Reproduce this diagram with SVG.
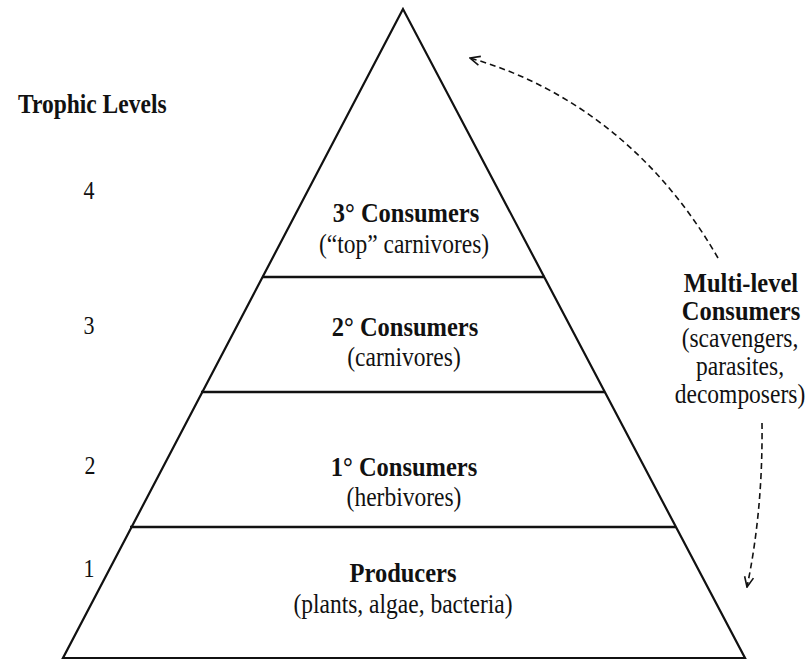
<svg xmlns="http://www.w3.org/2000/svg" width="809" height="660" viewBox="0 0 809 660">
  <style>
    text { font-family: "Liberation Serif", "Times New Roman", serif; fill: #111; }
    .b { font-weight: bold; font-size: 24.5px; text-anchor: middle; }
    .r { font-size: 23.5px; text-anchor: middle; }
    .n { font-size: 22px; text-anchor: middle; }
    .edge { fill: none; stroke: #111; stroke-width: 2.2; stroke-linejoin: miter; }
    .div { stroke: #111; stroke-width: 2.4; }
    .dash { fill: none; stroke: #111; stroke-width: 1.6; stroke-dasharray: 6 4; }
  </style>
  <defs>
    <marker id="ah" viewBox="0 0 12 12" refX="11" refY="6" markerWidth="12" markerHeight="12" markerUnits="userSpaceOnUse" orient="auto">
      <path d="M1,1.5 L11,6 L1,10.5" fill="none" stroke="#111" stroke-width="1.6"/>
    </marker>
  </defs>
  <rect width="809" height="660" fill="#fff"/>

  <g id="title">
    <text class="b" style="text-anchor:start;font-size:23.5px" transform="matrix(1 0 0 1.15 18 113)">Trophic Levels</text>
  </g>

  <g id="pyramid">
    <polygon class="edge" points="403,9 63,658 745,658"/>
    <line class="div" x1="262" y1="277" x2="545" y2="277"/>
    <line class="div" x1="201" y1="392" x2="605" y2="392"/>
    <line class="div" x1="130" y1="527" x2="676" y2="527"/>
  </g>

  <g id="level-4">
    <text class="n" transform="matrix(1 0 0 1.15 89 199)">4</text>
  </g>
  <g id="tertiary-consumers">
    <text class="b" transform="matrix(1 0 0 1.15 406 222)">3° Consumers</text>
    <text class="r" transform="matrix(1 0 0 1.15 404 253)">(“top” carnivores)</text>
  </g>

  <g id="level-3">
    <text class="n" transform="matrix(1 0 0 1.15 89 334)">3</text>
  </g>
  <g id="secondary-consumers">
    <text class="b" transform="matrix(1 0 0 1.15 405 336)">2° Consumers</text>
    <text class="r" transform="matrix(1 0 0 1.15 404 366)">(carnivores)</text>
  </g>

  <g id="level-2">
    <text class="n" transform="matrix(1 0 0 1.15 90 474)">2</text>
  </g>
  <g id="primary-consumers">
    <text class="b" transform="matrix(1 0 0 1.15 404 476)">1° Consumers</text>
    <text class="r" transform="matrix(1 0 0 1.15 404 506)">(herbivores)</text>
  </g>

  <g id="level-1">
    <text class="n" transform="matrix(1 0 0 1.15 89 577)">1</text>
  </g>
  <g id="producers">
    <text class="b" transform="matrix(1 0 0 1.15 403 582)">Producers</text>
    <text class="r" transform="matrix(1 0 0 1.15 403 613)">(plants, algae, bacteria)</text>
  </g>

  <g id="multilevel-consumers">
    <text class="b" transform="matrix(1 0 0 1.15 741 292)">Multi-level</text>
    <text class="b" transform="matrix(1 0 0 1.15 741 320)">Consumers</text>
    <text class="r" transform="matrix(1 0 0 1.15 740 347)">(scavengers,</text>
    <text class="r" transform="matrix(1 0 0 1.15 740 375)">parasites,</text>
    <text class="r" transform="matrix(1 0 0 1.15 740 403)">decomposers)</text>
  </g>

  <g id="connectors">
    <path class="dash" d="M718,258 C650,140 555,82 470,58" marker-end="url(#ah)"/>
    <path class="dash" d="M762,423 Q763,510 747,587" marker-end="url(#ah)"/>
  </g>
</svg>
